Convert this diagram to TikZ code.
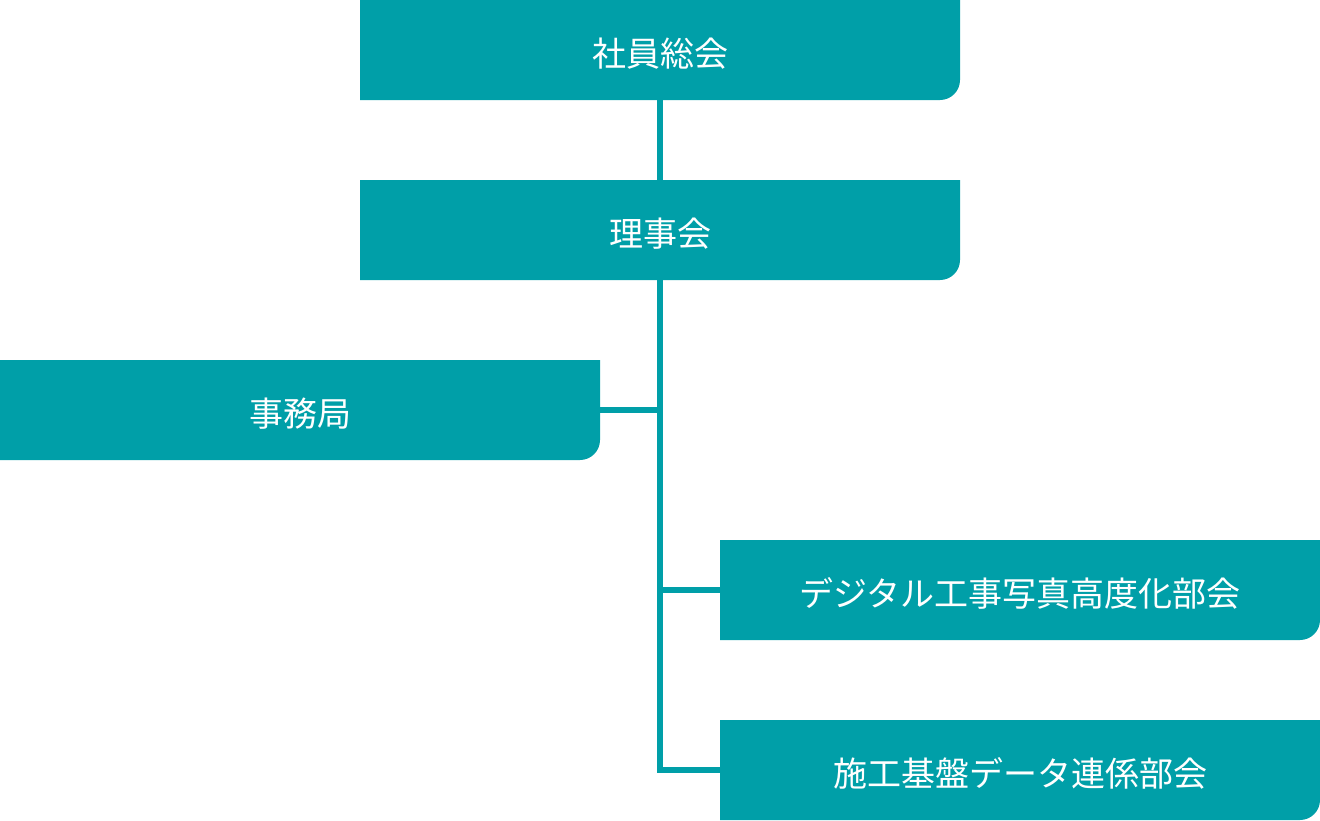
\documentclass[tikz,border=0pt]{standalone}
\usepackage{fontspec}
\newfontfamily\jpfont{Noto Sans CJK JP}
\usetikzlibrary{positioning,calc,backgrounds}
\definecolor{unitfill}{HTML}{009FA8}
\tikzset{
  x=1pt, y=1pt,
  % --- nodes
  unit/.style = {minimum width=600pt, minimum height=100pt, inner sep=0pt,
                 outer sep=0pt, text height=32pt, text depth=0pt,
                 text=white, font=\jpfont\fontsize{34}{40}\selectfont},
  % --- edges
  link/.style = {draw=unitfill, line width=6pt},
}
\begin{document}
\begin{tikzpicture}
  \useasboundingbox (0,0) rectangle (1320,-820);

  \node[unit] (gm)  at (660,-50)   {社員総会};
  \node[unit] (bd)  at (660,-230)  {理事会};
  \node[unit] (sec) at (300,-410)  {事務局};
  \node[unit] (dp)  at (1020,-590) {デジタル工事写真高度化部会};
  \node[unit] (cd)  at (1020,-770) {施工基盤データ連係部会};

  \begin{scope}[on background layer]
    \foreach \n in {gm,bd,sec,dp,cd} {
      \fill[unitfill] (\n.north west) -- (\n.north east)
        -- ([yshift=20pt]\n.south east)
        arc[start angle=0, end angle=-90, radius=20pt]
        -- (\n.south west) -- cycle;
    }
  \end{scope}

  \draw[link] (gm.south) -- (bd.north);
  \draw[link] (bd.south) |- (cd.west);
  \draw[link] (sec.east) -- (sec.east -| bd.south);
  \draw[link] (dp.west) -- (dp.west -| bd.south);
\end{tikzpicture}
\end{document}
